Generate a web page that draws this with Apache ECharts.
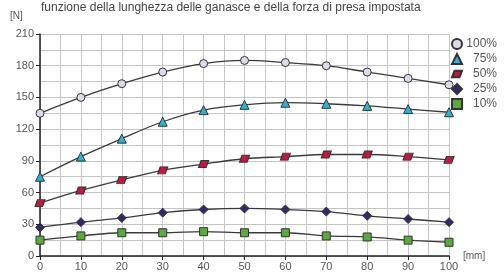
<!DOCTYPE html>
<html><head><meta charset="utf-8">
<script src="https://cdn.jsdelivr.net/npm/echarts@6/dist/echarts.min.js"></script>
<style>html,body{margin:0;padding:0;background:#fff}#c{width:504px;height:272px}</style>
</head><body><div id="c"></div>
<script>
var xValues = [0,10,20,30,40,50,60,70,80,90,100];
var names = ['100%','75%','50%','25%','10%'];
var s100 = [135,150,163,174,182,185,183,180,174,168,162];
var s75  = [75,94,111,127,138,143,145,144,142,139,136];
var s50  = [50,62,72,81,87,92,94,96,96,94,91];
var s25  = [27,32,36,41,44,45,44,42,38,35,32];
var s10  = [15,19,22,22,23,22,22,19,18,15,13];
var yTicks = [0,30,60,90,120,150,180,210];

var seriesData = [s100,s75,s50,s25,s10];
var colors = ['#dcdbe9','#29b4d6','#c4173d','#2f2a6e','#5bab3c'];
var symbols = ['circle','triangle','path://M3,0 L12,0 L9,8 L0,8 Z','diamond','rect'];
var sizes = [8,9,[10,7],9,8];
var font = 'Liberation Sans, Arial, sans-serif';

var chart = echarts.init(document.getElementById('c'));
chart.setOption({
  animation:false,
  textStyle:{fontFamily:font},
  graphic:[
    {type:'text',left:41,top:2,style:{text:'funzione della lunghezza delle ganasce e della forza di presa impostata',fill:'#444',font:'12px '+font}},
    {type:'text',left:10,top:11,style:{text:'[N]',fill:'#555',font:'10px '+font}},
    {type:'text',left:463,top:251,style:{text:'[mm]',fill:'#555',font:'10px '+font}}
  ],
  grid:{left:40,right:55,top:34,bottom:14.5,containLabel:false},
  legend:{
    orient:'vertical',right:2,top:33,itemGap:3,itemWidth:10,itemHeight:10,
    data:names.map(function(n,i){return {name:n,icon:symbols[i]};}),
    formatter:function(n){return '{a|'+n+'}';},
    textStyle:{color:'#555',fontSize:12,fontFamily:font,rich:{a:{width:30,align:'right',fontSize:12,color:'#555',lineHeight:13}}}
  },
  xAxis:{type:'value',min:0,max:100,interval:10,
    axisLine:{show:true,lineStyle:{color:'#222',width:1.5}},
    axisTick:{show:true,length:4,lineStyle:{color:'#222'}},
    axisLabel:{color:'#555',fontSize:11,margin:5},
    splitLine:{show:true,lineStyle:{color:'#c4c4c4',width:1}},
    minorTick:{show:false,splitNumber:2},
    minorSplitLine:{show:true,lineStyle:{color:'#c4c4c4',width:1}}
  },
  yAxis:{type:'value',min:0,max:210,interval:30,
    axisLine:{show:true,lineStyle:{color:'#222',width:1.5}},
    axisTick:{show:true,length:4,lineStyle:{color:'#222'}},
    axisLabel:{color:'#555',fontSize:11,margin:6,formatter:function(v){return yTicks.indexOf(v)>=0?String(v):'';}},
    splitLine:{show:true,lineStyle:{color:'#c4c4c4',width:1}},
    minorTick:{show:false,splitNumber:2},
    minorSplitLine:{show:true,lineStyle:{color:'#c4c4c4',width:1}}
  },
  series:seriesData.map(function(d,i){
    return {name:names[i],type:'line',smooth:0.35,
      data:d.map(function(v,j){return [xValues[j],v];}),
      symbol:symbols[i],symbolSize:sizes[i],
      lineStyle:{color:'#3a3a3a',width:1.3},
      itemStyle:{color:colors[i],borderColor:'#333',borderWidth:1},
      z:3};
  })
});
</script></body></html>
